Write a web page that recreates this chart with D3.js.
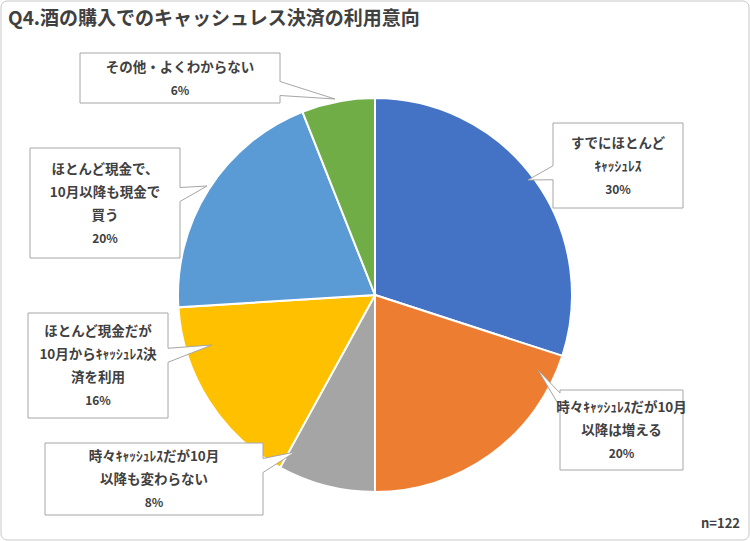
<!DOCTYPE html>
<html><head><meta charset="utf-8">
<script src="https://cdn.jsdelivr.net/npm/d3@7"></script>
<style>body{margin:0;background:#fff}text{font-family:"Noto Sans CJK JP",sans-serif}</style>
</head><body>
<script>
var labels = ["すでにほとんど|ｷｬｯｼｭﾚｽ", "時々ｷｬｯｼｭﾚｽだが10月|以降は増える", "時々ｷｬｯｼｭﾚｽだが10月|以降も変わらない",
              "ほとんど現金だが|10月からｷｬｯｼｭﾚｽ決|済を利用", "ほとんど現金で、|10月以降も現金で|買う", "その他・よくわからない"];
var values = [30, 20, 8, 16, 20, 6];
var colors = ["#4472c4", "#ed7d31", "#a5a5a5", "#ffc000", "#5b9bd5", "#70ad47"];

// callout boxes: x, y, w, h, side of pointer, tip
var boxes = [
  {x:553, y:123, w:130, h:85, side:"l", tip:[528,180]},
  {x:560, y:390, w:123, h:80, side:"l", tip:[538,370]},
  {x:45, y:443, w:218, h:72, side:"r", tip:[295,452]},
  {x:28, y:313, w:140, h:105, side:"r", tip:[212,345]},
  {x:30, y:148, w:150, h:110, side:"r", tip:[207,186]},
  {x:80, y:53, w:200, h:50, side:"r", tip:[335,99]}
];

var W = 750, H = 541, cx = 375, cy = 295, r = 197;
var svg = d3.select("body").append("svg").attr("width", W).attr("height", H);
svg.append("rect").attr("x", 1).attr("y", 1).attr("width", W - 2).attr("height", H - 2)
   .attr("rx", 6).attr("fill", "#fff").attr("stroke", "#c8c8c8");

svg.append("text").attr("x", 8).attr("y", 25).attr("font-size", 19).attr("font-weight", "bold")
   .attr("fill", "#404040").text("Q4.酒の購入でのキャッシュレス決済の利用意向");

var pie = d3.pie().sort(null).value(function(d){ return d; });
var arc = d3.arc().innerRadius(0).outerRadius(r);
svg.append("g").attr("transform", "translate(" + cx + "," + cy + ")")
   .selectAll("path").data(pie(values)).enter().append("path")
   .attr("d", arc).attr("fill", function(d, i){ return colors[i]; })
   .attr("stroke", "#fff").attr("stroke-width", 2);

function bubble(b) {
  var x0 = b.x, y0 = b.y, x1 = b.x + b.w, y1 = b.y + b.h, t = b.tip;
  var m = Math.max(y0 + 8, Math.min(y1 - 8, (y0 + y1) / 2 + (t[1] - (y0 + y1) / 2) * 0.5));
  if (b.side == "r") {
    return "M" + x0 + "," + y0 + "L" + x1 + "," + y0 + "L" + x1 + "," + (m - 7) + "L" + t[0] + "," + t[1] +
           "L" + x1 + "," + (m + 7) + "L" + x1 + "," + y1 + "L" + x0 + "," + y1 + "Z";
  }
  return "M" + x0 + "," + y0 + "L" + x1 + "," + y0 + "L" + x1 + "," + y1 + "L" + x0 + "," + y1 +
         "L" + x0 + "," + (m + 7) + "L" + t[0] + "," + t[1] + "L" + x0 + "," + (m - 7) + "Z";
}

var g = svg.selectAll(".callout").data(boxes).enter().append("g").attr("class", "callout");
g.append("path").attr("d", bubble).attr("fill", "#fff").attr("stroke", "#a6a6a6");
g.each(function(b, i) {
  var lines = labels[i].split("|").concat([values[i] + "%"]);
  var lh = 23, top = b.y + b.h / 2 - (lines.length - 1) * lh / 2 + 5;
  d3.select(this).selectAll("text").data(lines).enter().append("text")
    .attr("x", b.x + b.w / 2).attr("y", function(d, k){ return top + k * lh; })
    .attr("text-anchor", "middle").attr("font-size", function(d, k){ return k == lines.length - 1 ? 12 : 13.5; })
    .attr("font-weight", "bold").attr("fill", "#404040").text(function(d){ return d; });
});

svg.append("text").attr("x", 740).attr("y", 528).attr("text-anchor", "end").attr("font-size", 13)
   .attr("font-weight", "bold").attr("fill", "#404040").text("n=122");
</script>
</body></html>
